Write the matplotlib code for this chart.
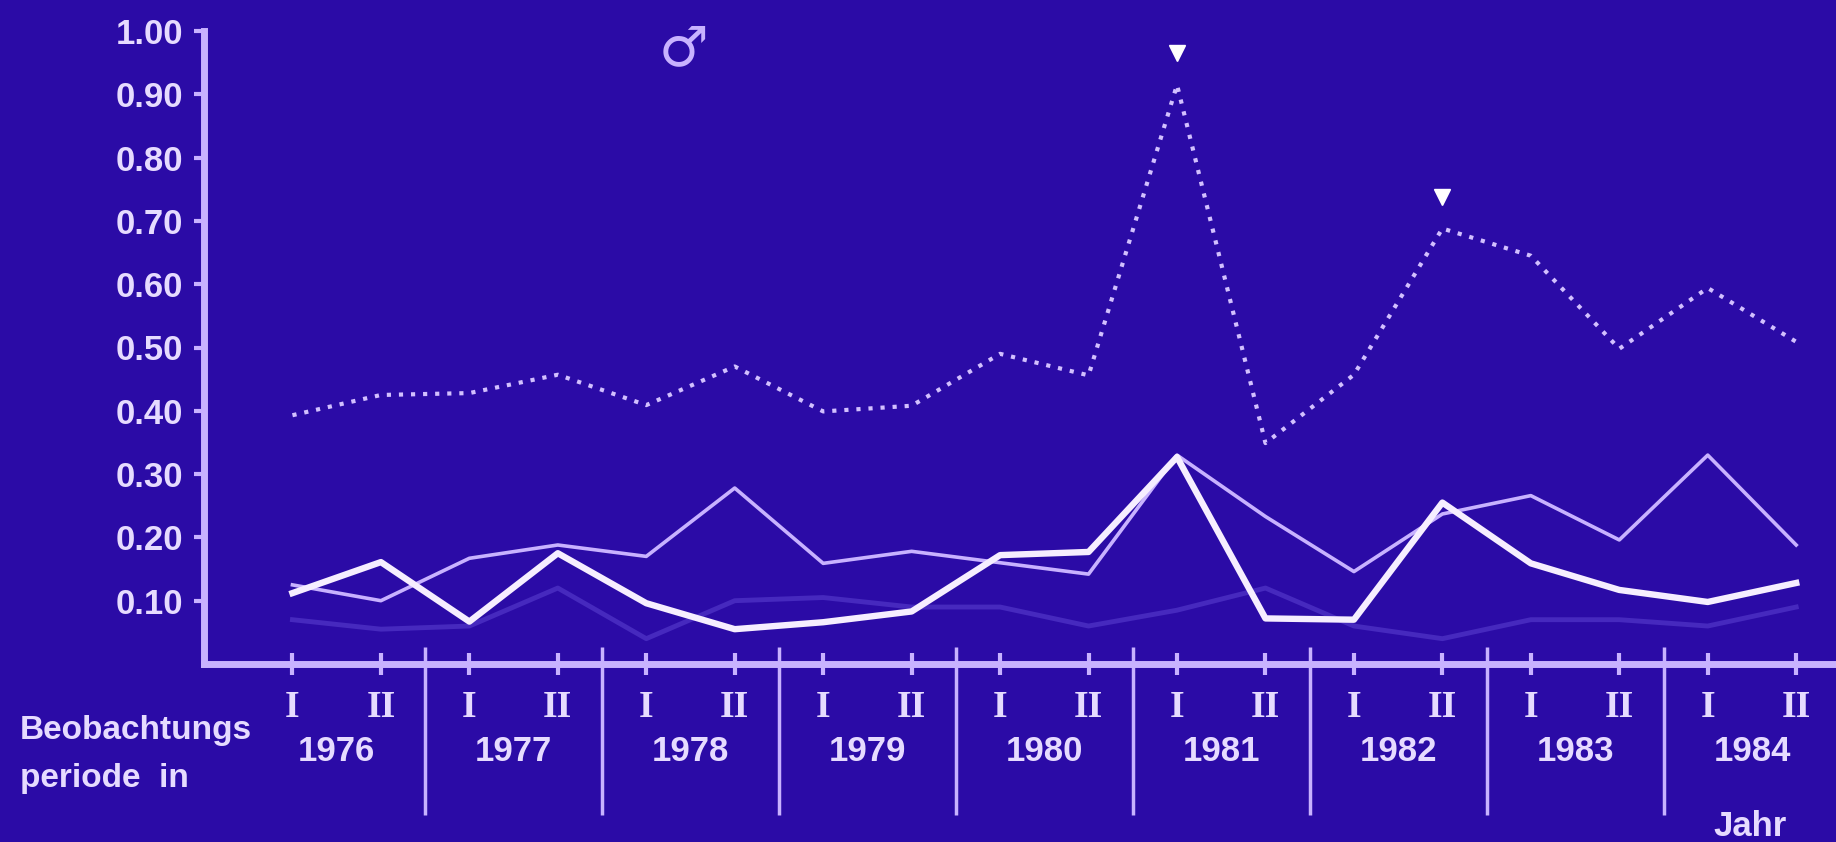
import matplotlib
matplotlib.use("Agg")
import matplotlib.pyplot as plt
import numpy as np

# Beobachtungsperioden: je Jahr Halbjahr I und II
jahre = [1976, 1977, 1978, 1979, 1980, 1981, 1982, 1983, 1984]
perioden = ["I", "II"] * len(jahre)

# Anteile je Periode, vier Kurven
gepunktet = [0.393, 0.425, 0.428, 0.457, 0.409, 0.470, 0.399, 0.408, 0.490, 0.456,
             0.915, 0.349, 0.457, 0.688, 0.645, 0.498, 0.594, 0.509]
duenn = [0.125, 0.100, 0.167, 0.188, 0.170, 0.278, 0.159, 0.178, 0.160, 0.142,
         0.330, 0.233, 0.146, 0.237, 0.266, 0.196, 0.330, 0.188]
dick = [0.112, 0.161, 0.067, 0.175, 0.096, 0.055, 0.066, 0.083, 0.172, 0.177,
        0.327, 0.072, 0.070, 0.255, 0.159, 0.117, 0.098, 0.128]
schwach = [0.070, 0.055, 0.060, 0.120, 0.040, 0.100, 0.105, 0.090, 0.090, 0.060,
           0.085, 0.120, 0.060, 0.040, 0.070, 0.070, 0.060, 0.090]
markiert = [10, 13]  # 1981 I und 1982 II: Dreieck über der gepunkteten Kurve

bg = "#2b0ba6"
hell = "#e6dbff"
lila = "#c8b2ff"
schrift = "Liberation Sans"

fig = plt.figure(figsize=(18.36, 8.42), dpi=100, facecolor=bg)
ax = fig.add_axes([204 / 1836, 178 / 842, 1 - 204 / 1836, 633 / 842])
ax.set_facecolor(bg)

x = np.arange(len(perioden))
ax.plot(x, schwach, color="#4629be", lw=3.5)
ax.plot(x, duenn, color=lila, lw=2.6)
ax.plot(x, dick, color="#f6eeff", lw=4.6)
ax.plot(x, gepunktet, color="#d2c0ff", lw=3.0, linestyle=(0, (1, 1.9)))
ax.plot(markiert, [gepunktet[i] + 0.05 for i in markiert], "v",
        color="white", markersize=12)

ax.set_xlim(-1.0, 17.45)
ax.set_ylim(0, 1.0)
for s in ["top", "right"]:
    ax.spines[s].set_visible(False)
for s in ["left", "bottom"]:
    ax.spines[s].set_color(lila)
    ax.spines[s].set_linewidth(5)

ax.set_yticks(np.arange(1, 11) / 10)
ax.set_yticklabels([f"{v:.2f}" for v in np.arange(1, 11) / 10],
                   family=schrift, fontweight="bold")
ax.tick_params(axis="y", direction="out", length=7, width=3, color=lila,
               pad=8, labelsize=25, labelcolor=hell)

ax.set_xticks(x)
ax.set_xticklabels(perioden, family="Liberation Serif", fontweight="bold")
ax.tick_params(axis="x", direction="inout", length=16, width=3, color=lila,
               pad=11, labelsize=27, labelcolor=hell)

# Jahreszahlen und Trennstriche zwischen den Jahren
for k, j in enumerate(jahre):
    ax.text(2 * k + 0.5, -0.139, str(j), ha="center", va="center",
            fontsize=25, fontweight="bold", family=schrift, color=hell,
            clip_on=False)
ax.vlines(np.arange(1.5, 16, 2), -0.2385, 0.027, color=lila, lw=2.5,
          clip_on=False)

fig.text(20 / 1836, 0.133, "Beobachtungs", ha="left", va="center",
         fontsize=24, family=schrift, fontweight="bold", color=hell)
fig.text(20 / 1836, 0.076, "periode  in", ha="left", va="center",
         fontsize=24, family=schrift, fontweight="bold", color=hell)
fig.text(0.953, 0.038, "Jahr", ha="center", va="top",
         fontsize=25, fontweight="bold", family=schrift, color=hell)
fig.text(0.3725, 0.94, "♂", ha="center", va="center",
         fontsize=40, family="DejaVu Sans", color=lila)

fig.savefig("out.png", dpi=100, facecolor=bg)
